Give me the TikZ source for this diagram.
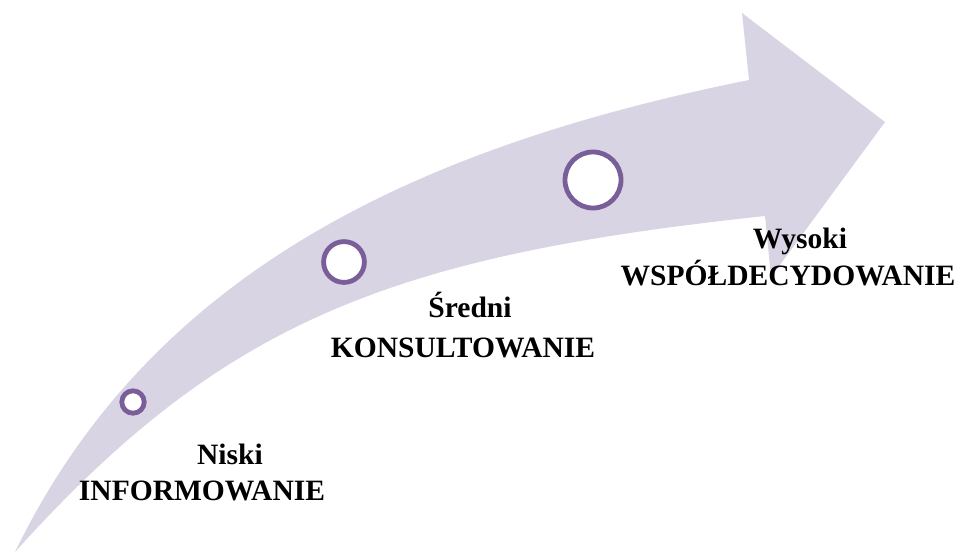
\documentclass[tikz,border=0pt]{standalone}
\usepackage{fontspec}
\setmainfont{Liberation Serif}
\usepackage{xcolor}
\usepackage{tikz}

\definecolor{arrowfill}{RGB}{216,212,228}
\definecolor{ringcol}{RGB}{122,94,154}

\begin{document}
\begin{tikzpicture}[
			x=0.025cm, y=-0.025cm,
			ring/.style={circle, draw=ringcol, fill=white, line width=0.12cm, inner sep=0pt},
			level/.style={anchor=base, font=\fontsize{21}{25}\selectfont\bfseries},
			stage/.style={level}
		]

		\useasboundingbox (0,0) rectangle (958,554);

		% Arrow
		\fill[arrowfill] (15,552) .. controls (148,278) and (406,149) .. (749,80)
			-- (742,13) -- (885,122) -- (771,277) -- (765,216)
			.. controls (390,256) and (223,321) .. (15,552) -- cycle;

		% Rings
		\node[ring, minimum size=0.56cm] (low) at (133,402) {};
		\node[ring, minimum size=1.02cm] (mid) at (344,262) {};
		\node[ring, minimum size=1.4cm] (high) at (593,180) {};

		% Labels
		\node[level] (niski) at (230,464) {Niski};
		\node[stage] (inform) at (202,500) {INFORMOWANIE};

		\node[level] (sredni) at (470,317) {Średni};
		\node[stage] (konsult) at (463,357) {KONSULTOWANIE};

		\node[level] (wysoki) at (800,248) {Wysoki};
		\node[stage] (wspol) at (788,285) {WSPÓŁDECYDOWANIE};

	\end{tikzpicture}
\end{document}
